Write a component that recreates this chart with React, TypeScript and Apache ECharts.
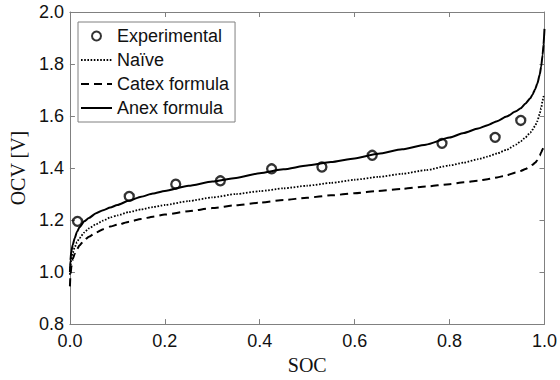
import React, { useEffect, useRef } from "react";
import * as echarts from "echarts";

const socGrid = [0, 0.001, 0.003, 0.006, 0.01, 0.015, 0.02, 0.03, 0.04, 0.055, 0.07, 0.085, 0.1, 0.125, 0.15, 0.175, 0.2, 0.25, 0.3, 0.35, 0.4, 0.45, 0.5, 0.55, 0.6, 0.65, 0.7, 0.75, 0.8, 0.83, 0.86, 0.88, 0.9, 0.92, 0.94, 0.95, 0.96, 0.97, 0.975, 0.98, 0.985, 0.99, 0.993, 0.996, 0.998, 1.0];
const anexV = [1.0, 1.045, 1.08, 1.105, 1.13, 1.155, 1.172, 1.195, 1.208, 1.226, 1.238, 1.248, 1.258, 1.275, 1.29, 1.302, 1.312, 1.332, 1.348, 1.362, 1.38, 1.395, 1.41, 1.423, 1.437, 1.455, 1.472, 1.49, 1.517, 1.535, 1.552, 1.565, 1.58, 1.598, 1.618, 1.63, 1.648, 1.668, 1.683, 1.702, 1.725, 1.76, 1.79, 1.835, 1.875, 1.935];
const naiveV = [0.99, 1.02, 1.05, 1.075, 1.095, 1.115, 1.13, 1.152, 1.168, 1.184, 1.198, 1.21, 1.218, 1.231, 1.241, 1.25, 1.258, 1.273, 1.287, 1.3, 1.311, 1.322, 1.332, 1.343, 1.355, 1.366, 1.378, 1.392, 1.41, 1.421, 1.434, 1.444, 1.456, 1.47, 1.49, 1.503, 1.518, 1.536, 1.548, 1.562, 1.58, 1.61, 1.63, 1.66, 1.675, 1.685];
const catexV = [0.945, 0.985, 1.02, 1.05, 1.07, 1.088, 1.102, 1.122, 1.136, 1.152, 1.165, 1.175, 1.182, 1.194, 1.204, 1.213, 1.221, 1.234, 1.246, 1.257, 1.267, 1.277, 1.286, 1.295, 1.303, 1.312, 1.32, 1.329, 1.338, 1.345, 1.351, 1.357, 1.364, 1.372, 1.383, 1.389, 1.396, 1.406, 1.413, 1.42, 1.43, 1.448, 1.46, 1.472, 1.478, 1.482];
const expSoc = [0.016, 0.125, 0.223, 0.317, 0.425, 0.531, 0.637, 0.784, 0.896, 0.95];
const expV = [1.195, 1.291, 1.338, 1.351, 1.397, 1.404, 1.449, 1.495, 1.518, 1.583];
const xTicks = [0, 0.2, 0.4, 0.6, 0.8, 1.0];
const yTicks = [0.8, 1.0, 1.2, 1.4, 1.6, 1.8, 2.0];

const pairs = (xs: number[], ys: number[]) => xs.map((x, i) => [x, ys[i]]);

export default function App() {
  const ref = useRef<HTMLDivElement>(null);
  useEffect(() => {
    if (!ref.current) return;
    const chart = echarts.init(ref.current, null, { renderer: "svg" });
    const axisColor = "#808080";
    const sans = "'Liberation Sans', Arial, sans-serif";
    const serif = "'Liberation Serif', 'Times New Roman', serif";
    const baseX = {
      type: "value" as const,
      min: xTicks[0],
      max: xTicks[xTicks.length - 1],
      interval: 0.2,
      splitLine: { show: false },
      axisLine: { show: true, onZero: false, lineStyle: { color: axisColor, width: 1 } },
      axisTick: { show: true, inside: true, length: 5, lineStyle: { color: axisColor } },
    };
    const baseY = {
      type: "value" as const,
      min: yTicks[0],
      max: yTicks[yTicks.length - 1],
      interval: 0.2,
      splitLine: { show: false },
      axisLine: { show: true, onZero: false, lineStyle: { color: axisColor, width: 1 } },
      axisTick: { show: true, inside: true, length: 5, lineStyle: { color: axisColor } },
    };
    const hiddenSym = { opacity: 0 };
    chart.setOption({
      animation: false,
      backgroundColor: "#ffffff",
      grid: { left: 68, right: 9, top: 12, bottom: 52, containLabel: false },
      legend: {
        orient: "vertical",
        left: 78,
        top: 22,
        padding: [5, 6, 5, 2],
        itemGap: 6,
        itemWidth: 31,
        itemHeight: 9,
        borderColor: "#808080",
        borderWidth: 1,
        backgroundColor: "#ffffff",
        textStyle: { fontFamily: sans, fontSize: 18, color: "#111111", lineHeight: 18 },
        data: [
          { name: "Experimental", itemStyle: { color: "#ffffff", borderColor: "#000000", borderWidth: 2 } },
          { name: "Naïve", itemStyle: hiddenSym },
          { name: "Catex formula", itemStyle: hiddenSym },
          { name: "Anex formula", itemStyle: hiddenSym },
        ],
      },
      xAxis: [
        {
          ...baseX,
          position: "bottom",
          name: "SOC",
          nameLocation: "middle",
          nameGap: 25,
          nameTextStyle: { fontFamily: serif, fontSize: 20, color: "#111111" },
          axisLabel: { show: true, margin: 8, fontFamily: sans, fontSize: 18, color: "#111111", formatter: (v: number) => v.toFixed(1) },
        },
        { ...baseX, position: "top", axisLabel: { show: false } },
      ],
      yAxis: [
        {
          ...baseY,
          position: "left",
          name: "OCV [V]",
          nameLocation: "middle",
          nameGap: 35,
          nameRotate: 90,
          nameTextStyle: { fontFamily: serif, fontSize: 20, color: "#111111" },
          axisLabel: { show: true, margin: 6, fontFamily: sans, fontSize: 18, color: "#111111", formatter: (v: number) => v.toFixed(1) },
        },
        { ...baseY, position: "right", axisLabel: { show: false } },
      ],
      series: [
        {
          name: "Experimental",
          type: "scatter",
          xAxisIndex: 0,
          yAxisIndex: 0,
          symbol: "circle",
          symbolSize: 9,
          itemStyle: { color: "rgba(255,255,255,0)", borderColor: "#000000", borderWidth: 2.3 },
          data: pairs(expSoc, expV),
          z: 5,
        },
        {
          name: "Naïve",
          type: "line",
          xAxisIndex: 0,
          yAxisIndex: 0,
          showSymbol: false,
          symbol: "none",
          smooth: 0.2,
          smoothMonotone: "x",
          lineStyle: { color: "#000000", width: 1.8, type: [1.6, 1.6] },
          itemStyle: { color: "#000000" },
          data: pairs(socGrid, naiveV),
        },
        {
          name: "Catex formula",
          type: "line",
          xAxisIndex: 0,
          yAxisIndex: 0,
          showSymbol: false,
          symbol: "none",
          smooth: 0.2,
          smoothMonotone: "x",
          lineStyle: { color: "#000000", width: 2, type: [8, 5] },
          itemStyle: { color: "#000000" },
          data: pairs(socGrid, catexV),
        },
        {
          name: "Anex formula",
          type: "line",
          xAxisIndex: 0,
          yAxisIndex: 0,
          showSymbol: false,
          symbol: "none",
          smooth: 0.2,
          smoothMonotone: "x",
          lineStyle: { color: "#000000", width: 2 },
          itemStyle: { color: "#000000" },
          data: pairs(socGrid, anexV),
        },
      ],
    });
    return () => chart.dispose();
  }, []);
  return <div ref={ref} style={{ width: 560, height: 380, position: "fixed", left: 0, top: 0 }} />;
}
